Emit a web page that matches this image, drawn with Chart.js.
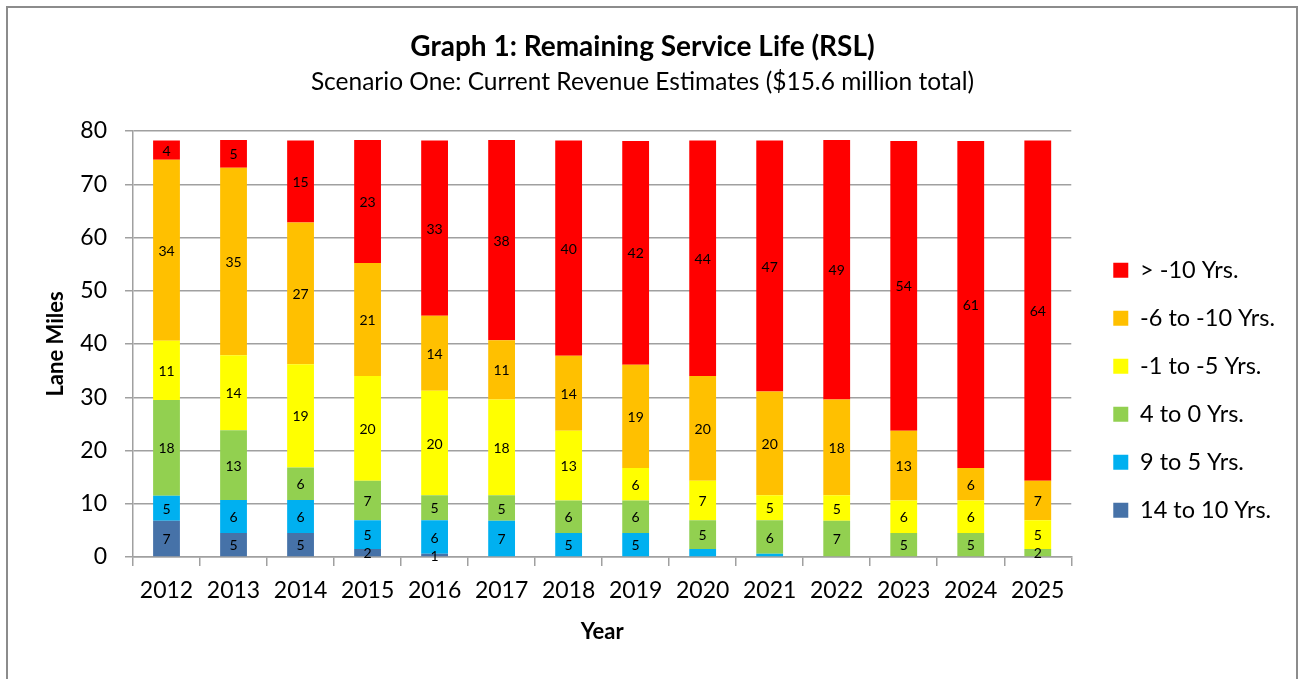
<!DOCTYPE html>
<html>
<head>
<meta charset="utf-8">
<title>Graph 1: Remaining Service Life (RSL)</title>
<script src="https://cdn.jsdelivr.net/npm/chart.js@4.4.1/dist/chart.umd.min.js"></script>
<style>
  html, body { margin: 0; padding: 0; background: #fff; }
  #wrap { position: relative; width: 1298px; height: 679px; overflow: hidden; }
  #frame {
    position: absolute; left: 6px; top: 6px; width: 1292px; height: 720px;
    border: 2px solid #8c8c8c; box-sizing: border-box;
  }
  #chart { position: absolute; left: 0; top: 0; }
</style>
</head>
<body>
<div id="wrap">
  <div id="frame"></div>
  <canvas id="chart" width="1298" height="679"></canvas>
</div>
<script>
'use strict';

// Years on the x axis
const years = ['2012', '2013', '2014', '2015', '2016', '2017', '2018',
               '2019', '2020', '2021', '2022', '2023', '2024', '2025'];

// Lane miles per RSL band (bottom band first)
const band14to10  = [6.8, 4.5, 4.5, 1.5, 0.6, 0, 0, 0, 0, 0, 0, 0, 0, 0];
const band9to5    = [4.7, 6.2, 6.2, 5.4, 6.3, 6.8, 4.5, 4.5, 1.5, 0.6, 0, 0, 0, 0];
const band4to0    = [18.0, 13.1, 6.1, 7.4, 4.7, 4.8, 6.1, 6.1, 5.4, 6.3, 6.8, 4.5, 4.5, 1.5];
const bandNeg1to5 = [11.1, 14.1, 19.4, 19.7, 19.6, 18.0, 13.1, 6.1, 7.4, 4.7, 4.8, 6.1, 6.1, 5.4];
const bandNeg6to10 = [34.0, 35.2, 26.6, 21.2, 14.1, 11.1, 14.1, 19.4, 19.7, 19.5, 18.0, 13.1, 6.1, 7.4];
const bandOver10  = [3.6, 5.2, 15.4, 23.1, 32.9, 37.6, 40.4, 42.0, 44.2, 47.1, 48.7, 54.4, 61.4, 63.9];

// Segments whose value label is not shown in the original
const hiddenLabels = [['9 to 5 Yrs.', '2020'], ['9 to 5 Yrs.', '2021']];

const yTicks = [0, 10, 20, 30, 40, 50, 60, 70, 80];

const COLORS = {
  over10:   '#ff0000',
  neg6to10: '#ffc000',
  neg1to5:  '#ffff00',
  b4to0:    '#92d050',
  b9to5:    '#00b0f0',
  b14to10:  '#4672a8',
  grid:     '#a0a0a0',
  text:     '#000000',
};

const FONT = 'Lato, "Open Sans", sans-serif';
Chart.defaults.font.family = FONT;
Chart.defaults.color = COLORS.text;

/** Writes the rounded value in the middle of each bar segment. */
const segmentLabels = {
  id: 'segmentLabels',
  afterDatasetsDraw(chart) {
    const ctx = chart.ctx;
    ctx.save();
    ctx.font = '14px ' + FONT;
    ctx.fillStyle = COLORS.text;
    ctx.textAlign = 'center';
    ctx.textBaseline = 'middle';
    chart.data.datasets.forEach((ds, di) => {
      const meta = chart.getDatasetMeta(di);
      meta.data.forEach((bar, i) => {
        const v = ds.data[i];
        if (!v) return;
        const year = chart.data.labels[i];
        if (hiddenLabels.some(([s, y]) => s === ds.label && y === year)) return;
        const p = bar.getCenterPoint();
        ctx.fillText(String(Math.round(v)), p.x, p.y + 1);
      });
    });
    ctx.restore();
  },
};

function band(label, data, color) {
  return {
    label,
    data,
    backgroundColor: color,
    borderWidth: 0,
    barPercentage: 0.4,
    categoryPercentage: 1.0,
  };
}

new Chart(document.getElementById('chart'), {
  type: 'bar',
  data: {
    labels: years,
    datasets: [
      band('14 to 10 Yrs.', band14to10, COLORS.b14to10),
      band('9 to 5 Yrs.', band9to5, COLORS.b9to5),
      band('4 to 0 Yrs.', band4to0, COLORS.b4to0),
      band('-1 to -5 Yrs.', bandNeg1to5, COLORS.neg1to5),
      band('-6 to -10 Yrs.', bandNeg6to10, COLORS.neg6to10),
      band('> -10 Yrs.', bandOver10, COLORS.over10),
    ],
  },
  options: {
    responsive: false,
    animation: false,
    layout: { padding: { left: 0, right: 13, top: 0, bottom: 0 } },
    plugins: {
      title: {
        display: true,
        text: 'Graph 1: Remaining Service Life (RSL)',
        color: COLORS.text,
        font: { size: 28, weight: 'bold' },
        padding: { top: 30, bottom: 4 },
      },
      subtitle: {
        display: true,
        text: 'Scenario One: Current Revenue Estimates ($15.6 million total)',
        color: COLORS.text,
        font: { size: 24.5 },
        padding: { top: 0, bottom: 34 },
      },
      legend: {
        position: 'right',
        align: 'start',
        reverse: true,
        title: { display: true, text: '', font: { size: 10 }, padding: { top: 222, bottom: 0 } },
        labels: {
          boxWidth: 15,
          boxHeight: 15,
          padding: 24.5,
          color: COLORS.text,
          font: { size: 23.5 },
        },
      },
      tooltip: { enabled: false },
    },
    scales: {
      x: {
        stacked: true,
        afterFit: (s) => { s.height = 122; },
        grid: {
          display: true,
          drawOnChartArea: false,
          drawTicks: true,
          tickLength: 9,
          tickColor: COLORS.grid,
          lineWidth: 1.5,
        },
        border: { display: true, color: COLORS.grid, width: 1.5 },
        ticks: { color: COLORS.text, font: { size: 23 }, padding: 11, maxRotation: 0 },
        title: {
          display: true,
          text: 'Year',
          color: COLORS.text,
          font: { size: 22, weight: 'bold' },
          padding: { top: 0, bottom: 34 },
        },
      },
      y: {
        stacked: true,
        min: 0,
        max: 80,
        afterFit: (s) => { s.width = 133; },
        afterBuildTicks: (s) => { s.ticks = yTicks.map((v) => ({ value: v })); },
        grid: {
          color: COLORS.grid,
          lineWidth: 1.5,
          tickLength: 8,
          tickColor: COLORS.grid,
        },
        border: { display: true, color: COLORS.grid, width: 1.5 },
        ticks: { color: COLORS.text, font: { size: 23 }, padding: 18 },
        title: {
          display: true,
          text: 'Lane Miles',
          color: COLORS.text,
          font: { size: 22, weight: 'bold' },
          padding: { top: 43, bottom: 0 },
        },
      },
      // empty spacer between the plot and the legend
      gap: {
        position: 'right',
        display: true,
        afterFit: (s) => { s.width = 17.5; },
        grid: { display: false },
        border: { display: false },
        ticks: { display: false },
      },
    },
  },
  plugins: [segmentLabels],
});
</script>
</body>
</html>
